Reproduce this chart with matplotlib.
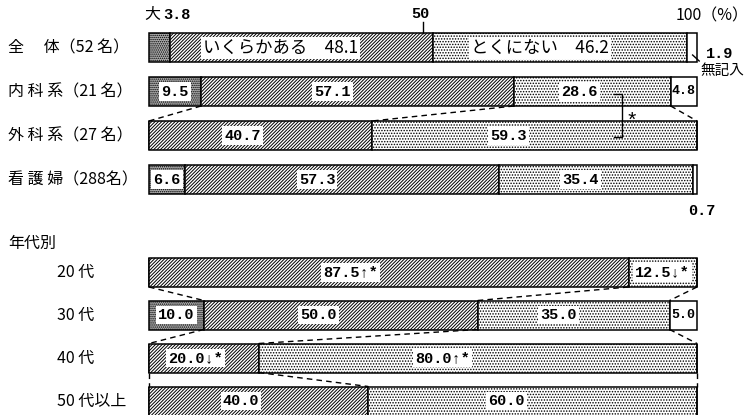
import matplotlib.pyplot as plt
import numpy as np

plt.rcParams['font.family'] = ['Noto Sans CJK JP', 'DejaVu Sans']
plt.rcParams['hatch.linewidth'] = 0.7

# rows: 4 groups + 4 age bands
groups = ['全　 体（52 名）', '内 科 系（21 名）', '外 科 系（27 名）', '看 護 婦（288名）']
ages = ['20 代', '30 代', '40 代', '50 代以上']
large = [3.8, 9.5, 0, 6.6, 0, 10.0, 0, 0]                 # 大いにある
some = [48.1, 57.1, 40.7, 57.3, 87.5, 50.0, 20.0, 40.0]    # いくらかある
notreally = [46.2, 28.6, 59.3, 35.4, 12.5, 35.0, 80.0, 60.0]  # とくにない
blank = [1.9, 4.8, 0, 0.7, 0, 5.0, 0, 0]                   # 無記入

# significance marks added after some values
marks = {(4, 1): '↑*', (4, 2): '↓*', (6, 1): '↓*', (6, 2): '↑*'}

# layout (pixel-ish y units, x in %)
ys = [48, 91.5, 135.5, 179.5, 272.5, 315, 358, 401]
h = 29
px = 5.48
x0 = 149

fig = plt.figure(figsize=(7.48, 4.15), dpi=100)
ax = fig.add_axes([0, 0, 1, 1])
ax.set_xlim(-x0 / px, (748 - x0) / px)
ax.set_ylim(415, 0)
ax.axis('off')

vals = np.array([large, some, notreally, blank]).T
cum = np.hstack([np.zeros((len(ys), 1)), np.cumsum(vals, axis=1)])

faces = ['#b0b0b0', 'white', 'white', 'white']
hatches = ['........', '//////////', '......', None]
for k in range(4):
    ax.barh(ys, vals[:, k], left=cum[:, k], height=h, color=faces[k],
            edgecolor='black', linewidth=1.1, hatch=hatches[k])

numfont = dict(family=['Liberation Mono', 'Noto Sans CJK JP'], fontweight='bold', fontsize=11)
box = dict(facecolor='white', edgecolor='none', pad=1.5)
for i in range(len(ys)):
    for k in range(3):
        v = vals[i, k]
        if v == 0 or (i == 0 and k == 0):
            continue
        frac = 0.5 if v < 15 else 0.42
        xc = cum[i, k] + frac * v
        s = f'{v:.1f}' + marks.get((i, k), '')
        if i == 0:
            s = ('いくらかある　' if k == 1 else 'とくにない　') + s
            ax.text(xc, ys[i], s, ha='center', va='center', fontsize=12.5, bbox=box)
        else:
            ax.text(xc, ys[i], s, ha='center', va='center', bbox=box, **numfont)
    if i in (1, 5):
        v = vals[i, 3]
        ax.text(cum[i, 3] + v / 2, ys[i], f'{v:.1f}', ha='center', va='center',
                **dict(numfont, fontsize=9.5))

# dashed connectors between neighbouring bars
for a, b in [(1, 2), (4, 5), (5, 6), (6, 7)]:
    for k in (1, 2, 3):
        ax.plot([cum[a, k], cum[b, k]], [ys[a] + h / 2, ys[b] - h / 2],
                color='black', lw=1, ls=(0, (4, 3)))

# row labels
for i, g in enumerate(groups):
    ax.text((8 - x0) / px, ys[i], g, ha='left', va='center', fontsize=11.5)
ax.text((8 - x0) / px, 243, '年代別', ha='left', va='center', fontsize=11.5)
for i, g in enumerate(ages):
    ax.text((57 - x0) / px, ys[4 + i], g, ha='left', va='center', fontsize=11.5)

# top scale marks
ax.text(-0.8, 15, '大', ha='left', va='center', fontsize=11.5)
ax.text(2.6, 15, f'{large[0]:.1f}', ha='left', va='center', **numfont)
ax.text(49.5, 14, '50', ha='center', va='center', **numfont)
ax.plot([50, 50], [22, ys[0] - h / 2], color='black', lw=1)
ax.text(102.8, 16, '100（%）', ha='center', va='center', fontsize=11.5)

# 無記入 for 全体
ax.plot([99.2, 100.4], [55, 61], color='black', lw=1)
ax.text(101.6, 54, f'{blank[0]:.1f}', ha='left', va='center', **numfont)
ax.text(100.6, 71, '無記入', ha='left', va='center', fontsize=10.5)
ax.text(100.9, 211, f'{blank[3]:.1f}', ha='center', va='center', **numfont)

# significance bracket 内科系 vs 外科系
bx0, bx1 = (614 - x0) / px, (622 - x0) / px
ax.plot([bx0, bx1, bx1, bx0], [94, 94, 137, 137], color='black', lw=1)
ax.text(bx1 + 1.7, 121, '*', ha='center', va='center', fontsize=15,
        family=['Liberation Mono'])

fig.savefig('out.png', dpi=100)
